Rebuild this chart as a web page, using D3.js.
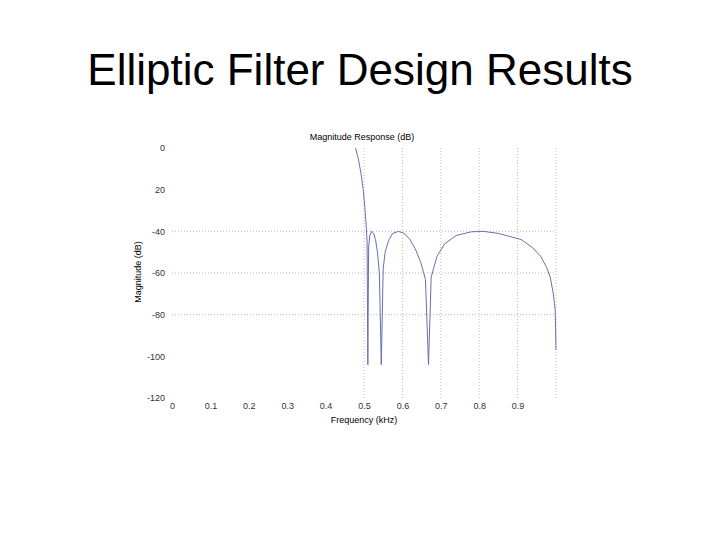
<!DOCTYPE html><html><head><meta charset="utf-8"><script src="https://cdn.jsdelivr.net/npm/d3@7"></script>
<style>body{margin:0;background:#fff}text{font-family:"Liberation Sans",Arial,sans-serif}</style></head><body>
<svg id="c" width="720" height="540"></svg>
<script>
const freq=[0.478,0.485,0.492,0.498,0.502,0.506,0.508,0.510,0.512,0.515,0.520,0.525,0.530,0.535,0.540,0.545,0.550,0.555,0.565,0.575,0.590,0.605,0.620,0.635,0.648,0.660,0.668,0.675,0.69,0.71,0.74,0.78,0.81,0.85,0.88,0.91,0.94,0.96,0.975,0.985,0.993,0.998,1.0];
const mag=[0,-5,-12,-20,-28,-38,-45,-104,-48,-42,-40,-41,-44,-50,-60,-104,-58,-50,-44,-41,-40,-41,-44,-49,-55,-63,-104,-62,-52,-46,-42,-40.2,-40,-41,-42.5,-44,-48,-52,-57,-62,-70,-78,-97];
const xTicks=[0,0.1,0.2,0.3,0.4,0.5,0.6,0.7,0.8,0.9];
const yTicks=[0,-20,-40,-60,-80,-100,-120];
const yLabels=["0","20","-40","-60","-80","-100","-120"];
const xGrid=[0.5,0.6,0.7,0.8,0.9,1.0];
const yGrid=[-40,-60,-80];
const svg=d3.select("#c");
svg.append("text").attr("x",360).attr("y",85).attr("text-anchor","middle").attr("font-size",44).text("Elliptic Filter Design Results");
const x=d3.scaleLinear().domain([0,1]).range([172,556]);
const y=d3.scaleLinear().domain([0,-120]).range([148,398]);
const g=svg.append("g");
g.selectAll(".vg").data(xGrid).enter().append("line").attr("x1",d=>x(d)).attr("x2",d=>x(d)).attr("y1",y(0)).attr("y2",y(-120)).attr("stroke","#aaa").attr("stroke-dasharray","1,2").attr("stroke-width",0.8);
g.selectAll(".hg").data(yGrid).enter().append("line").attr("x1",x(0)).attr("x2",x(1)).attr("y1",d=>y(d)).attr("y2",d=>y(d)).attr("stroke","#aaa").attr("stroke-dasharray","1,2").attr("stroke-width",0.8);
const xa=svg.append("g").attr("transform","translate(0,400)").call(d3.axisBottom(x).tickValues(xTicks).tickSize(0).tickFormat(d3.format("")));
xa.select(".domain").remove();xa.selectAll("text").attr("font-size",9).attr("fill","#333");
const ya=svg.append("g").attr("transform","translate(168,0)").call(d3.axisLeft(y).tickValues(yTicks).tickSize(0).tickFormat((d,i)=>yLabels[i]));
ya.select(".domain").remove();ya.selectAll("text").attr("font-size",9).attr("fill","#333");
svg.append("text").attr("x",362).attr("y",140).attr("text-anchor","middle").attr("font-size",9).text("Magnitude Response (dB)");
svg.append("text").attr("x",364).attr("y",423).attr("text-anchor","middle").attr("font-size",9).text("Frequency (kHz)");
svg.append("text").attr("transform","translate(141,272) rotate(-90)").attr("text-anchor","middle").attr("font-size",9).text("Magnitude (dB)");
const pts=freq.map((f,i)=>[f,mag[i]]);
svg.append("path").datum(pts).attr("d",d3.line().x(d=>x(d[0])).y(d=>y(d[1]))).attr("fill","none").attr("stroke","#6670b0").attr("stroke-width",1);
</script></body></html>
